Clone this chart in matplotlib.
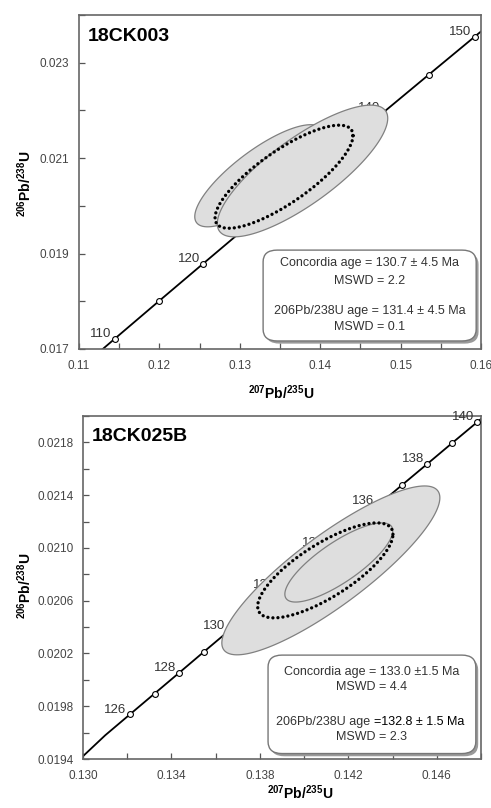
import numpy as np
import matplotlib
matplotlib.use("Agg")
import matplotlib.pyplot as plt
from matplotlib.patches import Polygon, FancyBboxPatch
from matplotlib.ticker import FixedLocator, FormatStrFormatter

plt.rcParams['font.family'] = ['Liberation Sans', 'DejaVu Sans']
plt.rcParams['mathtext.fontset'] = 'custom'
plt.rcParams['mathtext.rm'] = 'Liberation Sans'
plt.rcParams['mathtext.bf'] = 'Liberation Sans:bold'

# concordia points (age in Ma -> 207Pb/235U, 206Pb/238U)
ages_a = [105, 110, 115, 120, 125, 130, 135, 140, 145, 150, 155]
conc_x_a = [0.108945, 0.114419, 0.119921, 0.125449, 0.131005, 0.136588,
            0.142198, 0.147837, 0.153503, 0.159197, 0.164919]
conc_y_a = [0.016421, 0.017210, 0.018000, 0.018789, 0.019580, 0.020371,
            0.021163, 0.021955, 0.022748, 0.023542, 0.024336]
marked_a = [110, 115, 120, 125, 130, 135, 140, 145, 150]
labeled_a = [110, 120, 130, 140, 150]

ages_b = [124, 125, 126, 127, 128, 129, 130, 131, 132, 133, 134, 135,
          136, 137, 138, 139, 140, 141]
conc_x_b = [0.130004, 0.131005, 0.132119, 0.133235, 0.134351, 0.135469,
            0.136588, 0.137708, 0.138829, 0.139951, 0.141074, 0.142198,
            0.143324, 0.144450, 0.145578, 0.146707, 0.147837, 0.148968]
conc_y_b = [0.019422, 0.019580, 0.019738, 0.019896, 0.020054, 0.020213,
            0.020371, 0.020529, 0.020688, 0.020846, 0.021004, 0.021163,
            0.021321, 0.021480, 0.021638, 0.021797, 0.021955, 0.022114]
marked_b = list(range(126, 141))
labeled_b = list(range(126, 141, 2))

# error ellipses: centre x, centre y, half-width x, half-width y, rho
ell_a = [(0.1324, 0.02063, 0.0080, 0.00107, 0.80),
         (0.1378, 0.02073, 0.0106, 0.00138, 0.80)]
mean_a = (0.1355, 0.02061, 0.00858, 0.00108, 0.80)

ell_b = [(0.14121, 0.02083, 0.00493, 0.00064, 0.86),
         (0.14157, 0.02089, 0.00244, 0.00030, 0.80)]
mean_b = (0.14096, 0.02083, 0.00306, 0.00036, 0.76)

# axis ticks
xt_a = [0.11, 0.12, 0.13, 0.14, 0.15, 0.16]
xm_a = [0.115, 0.125, 0.135, 0.145, 0.155]
yt_a = [0.017, 0.019, 0.021, 0.023]
ym_a = [0.018, 0.020, 0.022, 0.024]
xt_b = [0.130, 0.134, 0.138, 0.142, 0.146]
xm_b = [0.132, 0.136, 0.140, 0.144, 0.148]
yt_b = [0.0194, 0.0198, 0.0202, 0.0206, 0.0210, 0.0214, 0.0218]
ym_b = [0.0196, 0.0200, 0.0204, 0.0208, 0.0212, 0.0216, 0.0220]

# box lines; a tuple is a line whose second part is set in black
text_a = ["Concordia age = 130.7 \u00b1 4.5 Ma", "MSWD = 2.2",
          "206Pb/238U age = 131.4 \u00b1 4.5 Ma", "MSWD = 0.1"]
text_b = ["Concordia age = 133.0 \u00b11.5 Ma", "MSWD = 4.4",
          ("206Pb/238U age ", "=132.8 \u00b1 1.5 Ma"), "MSWD = 2.3"]


def ellipse_pts(x0, y0, ex, ey, rho, n=200):
    t = np.linspace(0, 2 * np.pi, n)
    x = x0 + ex * np.cos(t)
    y = y0 + ey * (rho * np.cos(t) + np.sqrt(1 - rho ** 2) * np.sin(t))
    return np.column_stack([x, y])


def draw_panel(ax, ages, cx, cy, marked, labeled, ells, mean, lines, name,
               xlim, ylim, xt, xm, yt, ym, xfmt, yfmt, box, lines_y, name_y):
    ax.plot(cx, cy, color='black', lw=1.3, zorder=2)
    for a, x, y in zip(ages, cx, cy):
        if a in marked:
            ax.plot(x, y, 'o', ms=4.2, mfc='white', mec='black', mew=0.8, zorder=3)
        if a in labeled:
            ax.annotate(str(a), (x, y), xytext=(-2.5, -1), textcoords='offset points',
                        ha='right', va='bottom', fontsize=9.5, color='#333333', zorder=3)
    for e in ells:
        ax.add_patch(Polygon(ellipse_pts(*e), closed=True, fc='#dedede', ec='#808080',
                             lw=0.9, zorder=4))
    pts = ellipse_pts(*mean)
    ax.plot(pts[:, 0], pts[:, 1], color='black', lw=2.4, ls=(0, (0.01, 1.5)),
            dash_capstyle='round', zorder=5)

    ax.set_xlim(xlim)
    ax.set_ylim(ylim)
    ax.xaxis.set_major_locator(FixedLocator(xt))
    ax.xaxis.set_minor_locator(FixedLocator(xm))
    ax.yaxis.set_major_locator(FixedLocator(yt))
    ax.yaxis.set_minor_locator(FixedLocator(ym))
    ax.xaxis.set_major_formatter(FormatStrFormatter(xfmt))
    ax.yaxis.set_major_formatter(FormatStrFormatter(yfmt))
    ax.tick_params(which='both', direction='in', length=4, width=0.9, color='#555555',
                   labelsize=8.5, labelcolor='#444444')
    ax.tick_params(axis='y', which='major', pad=7)
    ax.tick_params(axis='x', which='major', pad=8)
    for s in ax.spines.values():
        s.set_color('#666666')
        s.set_linewidth(1.2)

    ax.text(0.022, name_y, name, transform=ax.transAxes, fontsize=14, fontweight='bold',
            ha='left', va='center', color='black')

    # results box with drop shadow
    x0, y0, x1, y1 = box
    shadow = FancyBboxPatch((x0 + 0.006, y0 - 0.008), x1 - x0, y1 - y0,
                            boxstyle='round,pad=0,rounding_size=0.035',
                            transform=ax.transAxes, fc='#9a9a9a', ec='none', zorder=6)
    frame = FancyBboxPatch((x0, y0), x1 - x0, y1 - y0,
                           boxstyle='round,pad=0,rounding_size=0.035',
                           transform=ax.transAxes, fc='white', ec='#777777', lw=1.0, zorder=7)
    ax.add_patch(shadow)
    ax.add_patch(frame)
    xc = (x0 + x1) / 2
    for s, yy in zip(lines, lines_y):
        if isinstance(s, tuple):
            t1 = ax.text(xc + 0.004, yy, s[0], transform=ax.transAxes, ha='right',
                         va='center', fontsize=9, color='#333333', zorder=8)
            ax.annotate(s[1], xy=(1, 0.5), xycoords=t1, ha='left', va='center',
                        fontsize=9, color='black', zorder=8)
        else:
            ax.text(xc, yy, s, transform=ax.transAxes, ha='center', va='center',
                    fontsize=9, color='#333333', zorder=8)


fig = plt.figure(figsize=(4.91, 8.08), dpi=100)
ax1 = fig.add_axes([0.1609, 0.5681, 0.8187, 0.4134])
ax2 = fig.add_axes([0.1690, 0.0606, 0.8106, 0.4245])

draw_panel(ax1, ages_a, conc_x_a, conc_y_a, marked_a, labeled_a, ell_a, mean_a, text_a,
           '18CK003', (0.11, 0.16), (0.017, 0.024), xt_a, xm_a, yt_a, ym_a,
           '%.2f', '%.3f', (0.458, 0.024, 0.988, 0.296),
           [0.2575, 0.2036, 0.1138, 0.0659], 0.934)
draw_panel(ax2, ages_b, conc_x_b, conc_y_b, marked_b, labeled_b, ell_b, mean_b, text_b,
           '18CK025B', (0.130, 0.148), (0.0194, 0.0220), xt_b, xm_b, yt_b, ym_b,
           '%.3f', '%.4f', (0.465, 0.016, 0.987, 0.303),
           [0.2536, 0.2099, 0.1079, 0.0641], 0.939)

ylab = r'$\mathbf{^{206}Pb/^{238}U}$'
xlab = r'$\mathbf{^{207}Pb/^{235}U}$'
fig.text(25 / 491, (808 - 184) / 808, ylab, rotation=90, ha='center', va='center', fontsize=10)
fig.text(25 / 491, (808 - 586) / 808, ylab, rotation=90, ha='center', va='center', fontsize=10)
fig.text(281 / 491, (808 - 393) / 808, xlab, ha='center', va='center', fontsize=10)
fig.text(300 / 491, (808 - 793) / 808, xlab, ha='center', va='center', fontsize=10)

fig.savefig('out.png', dpi=100, facecolor='white')
